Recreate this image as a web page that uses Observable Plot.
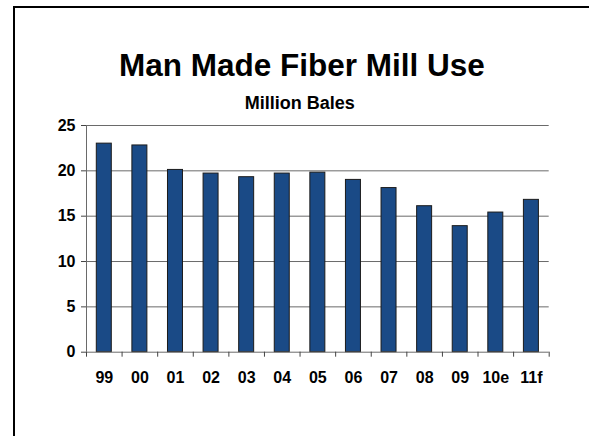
<!DOCTYPE html>
<html>
<head>
<meta charset="utf-8">
<script src="https://cdn.jsdelivr.net/npm/d3@7"></script>
<script src="https://cdn.jsdelivr.net/npm/@observablehq/plot@0.6"></script>
<style>
  html, body { margin: 0; padding: 0; background: #fff; overflow: hidden; }
  #wrap { position: relative; width: 589px; height: 436px; overflow: hidden; background: #fff; }
  .edge { position: absolute; background: #000; }
  #edgeLeft { left: 13px; top: 6px; width: 2px; height: 430px; }
  #edgeTop { left: 13px; top: 6px; width: 576px; height: 2px; }
  #chart { position: absolute; left: 0; top: 0; }
</style>
</head>
<body>
<div id="wrap"><div class="edge" id="edgeLeft"></div><div class="edge" id="edgeTop"></div><div id="chart"></div></div>
<script>
const title = "Man Made Fiber Mill Use";
const subtitle = "Million Bales";
const categories = ["99","00","01","02","03","04","05","06","07","08","09","10e","11f"];
const values = [23.0, 22.8, 20.1, 19.7, 19.3, 19.7, 19.8, 19.0, 18.1, 16.1, 13.9, 15.4, 16.8];
const yTicks = [0, 5, 10, 15, 20, 25];

const data = categories.map((c, i) => ({cat: c, i, value: values[i]}));
const font = "'Liberation Sans', Arial, sans-serif";

const chart = Plot.plot({
  width: 589,
  height: 436,
  marginLeft: 86,
  marginRight: 40.3,
  marginTop: 125,
  marginBottom: 84.3,
  style: {fontFamily: font, background: "transparent"},
  x: {type: "linear", domain: [0, categories.length], axis: null},
  y: {domain: [0, 25], axis: null},
  marks: [
    Plot.gridY(yTicks.filter(d => d > 0), {stroke: "#6a6a6a", strokeOpacity: 1, strokeWidth: 1}),
    Plot.rectY(data, {x1: "i", x2: d => d.i + 1, y: "value", fill: "#1a4a86", stroke: "#1b1b1b", strokeWidth: 1, insetLeft: 10.3, insetRight: 10.3}),
    Plot.ruleY([0], {stroke: "#6a6a6a"}),
    Plot.ruleX([0], {y1: 0, y2: 25, stroke: "#6a6a6a"}),
    Plot.axisY({ticks: yTicks, tickSize: 5, tickPadding: 6, fontSize: 16, fontWeight: "bold", stroke: "#444", color: "#000", label: null}),
    Plot.axisX({ticks: d3.range(categories.length + 1), tickFormat: () => "", tickSize: 5, stroke: "#444", label: null}),
    Plot.axisX({ticks: categories.map((c, i) => i + 0.5), tickFormat: d => categories[Math.round(d - 0.5)], tickSize: 0, tickPadding: 19, fontSize: 16, fontWeight: "bold", color: "#000", label: null}),
    Plot.text([title], {frameAnchor: "top", lineAnchor: "bottom", dy: -50, dx: -16, fontSize: 31.5, fontWeight: "bold", fill: "#000"}),
    Plot.text([subtitle], {frameAnchor: "top", lineAnchor: "bottom", dy: -17, dx: -18, fontSize: 18, fontWeight: "bold", fill: "#000"})
  ]
});
document.getElementById("chart").appendChild(chart);
</script>
</body>
</html>
